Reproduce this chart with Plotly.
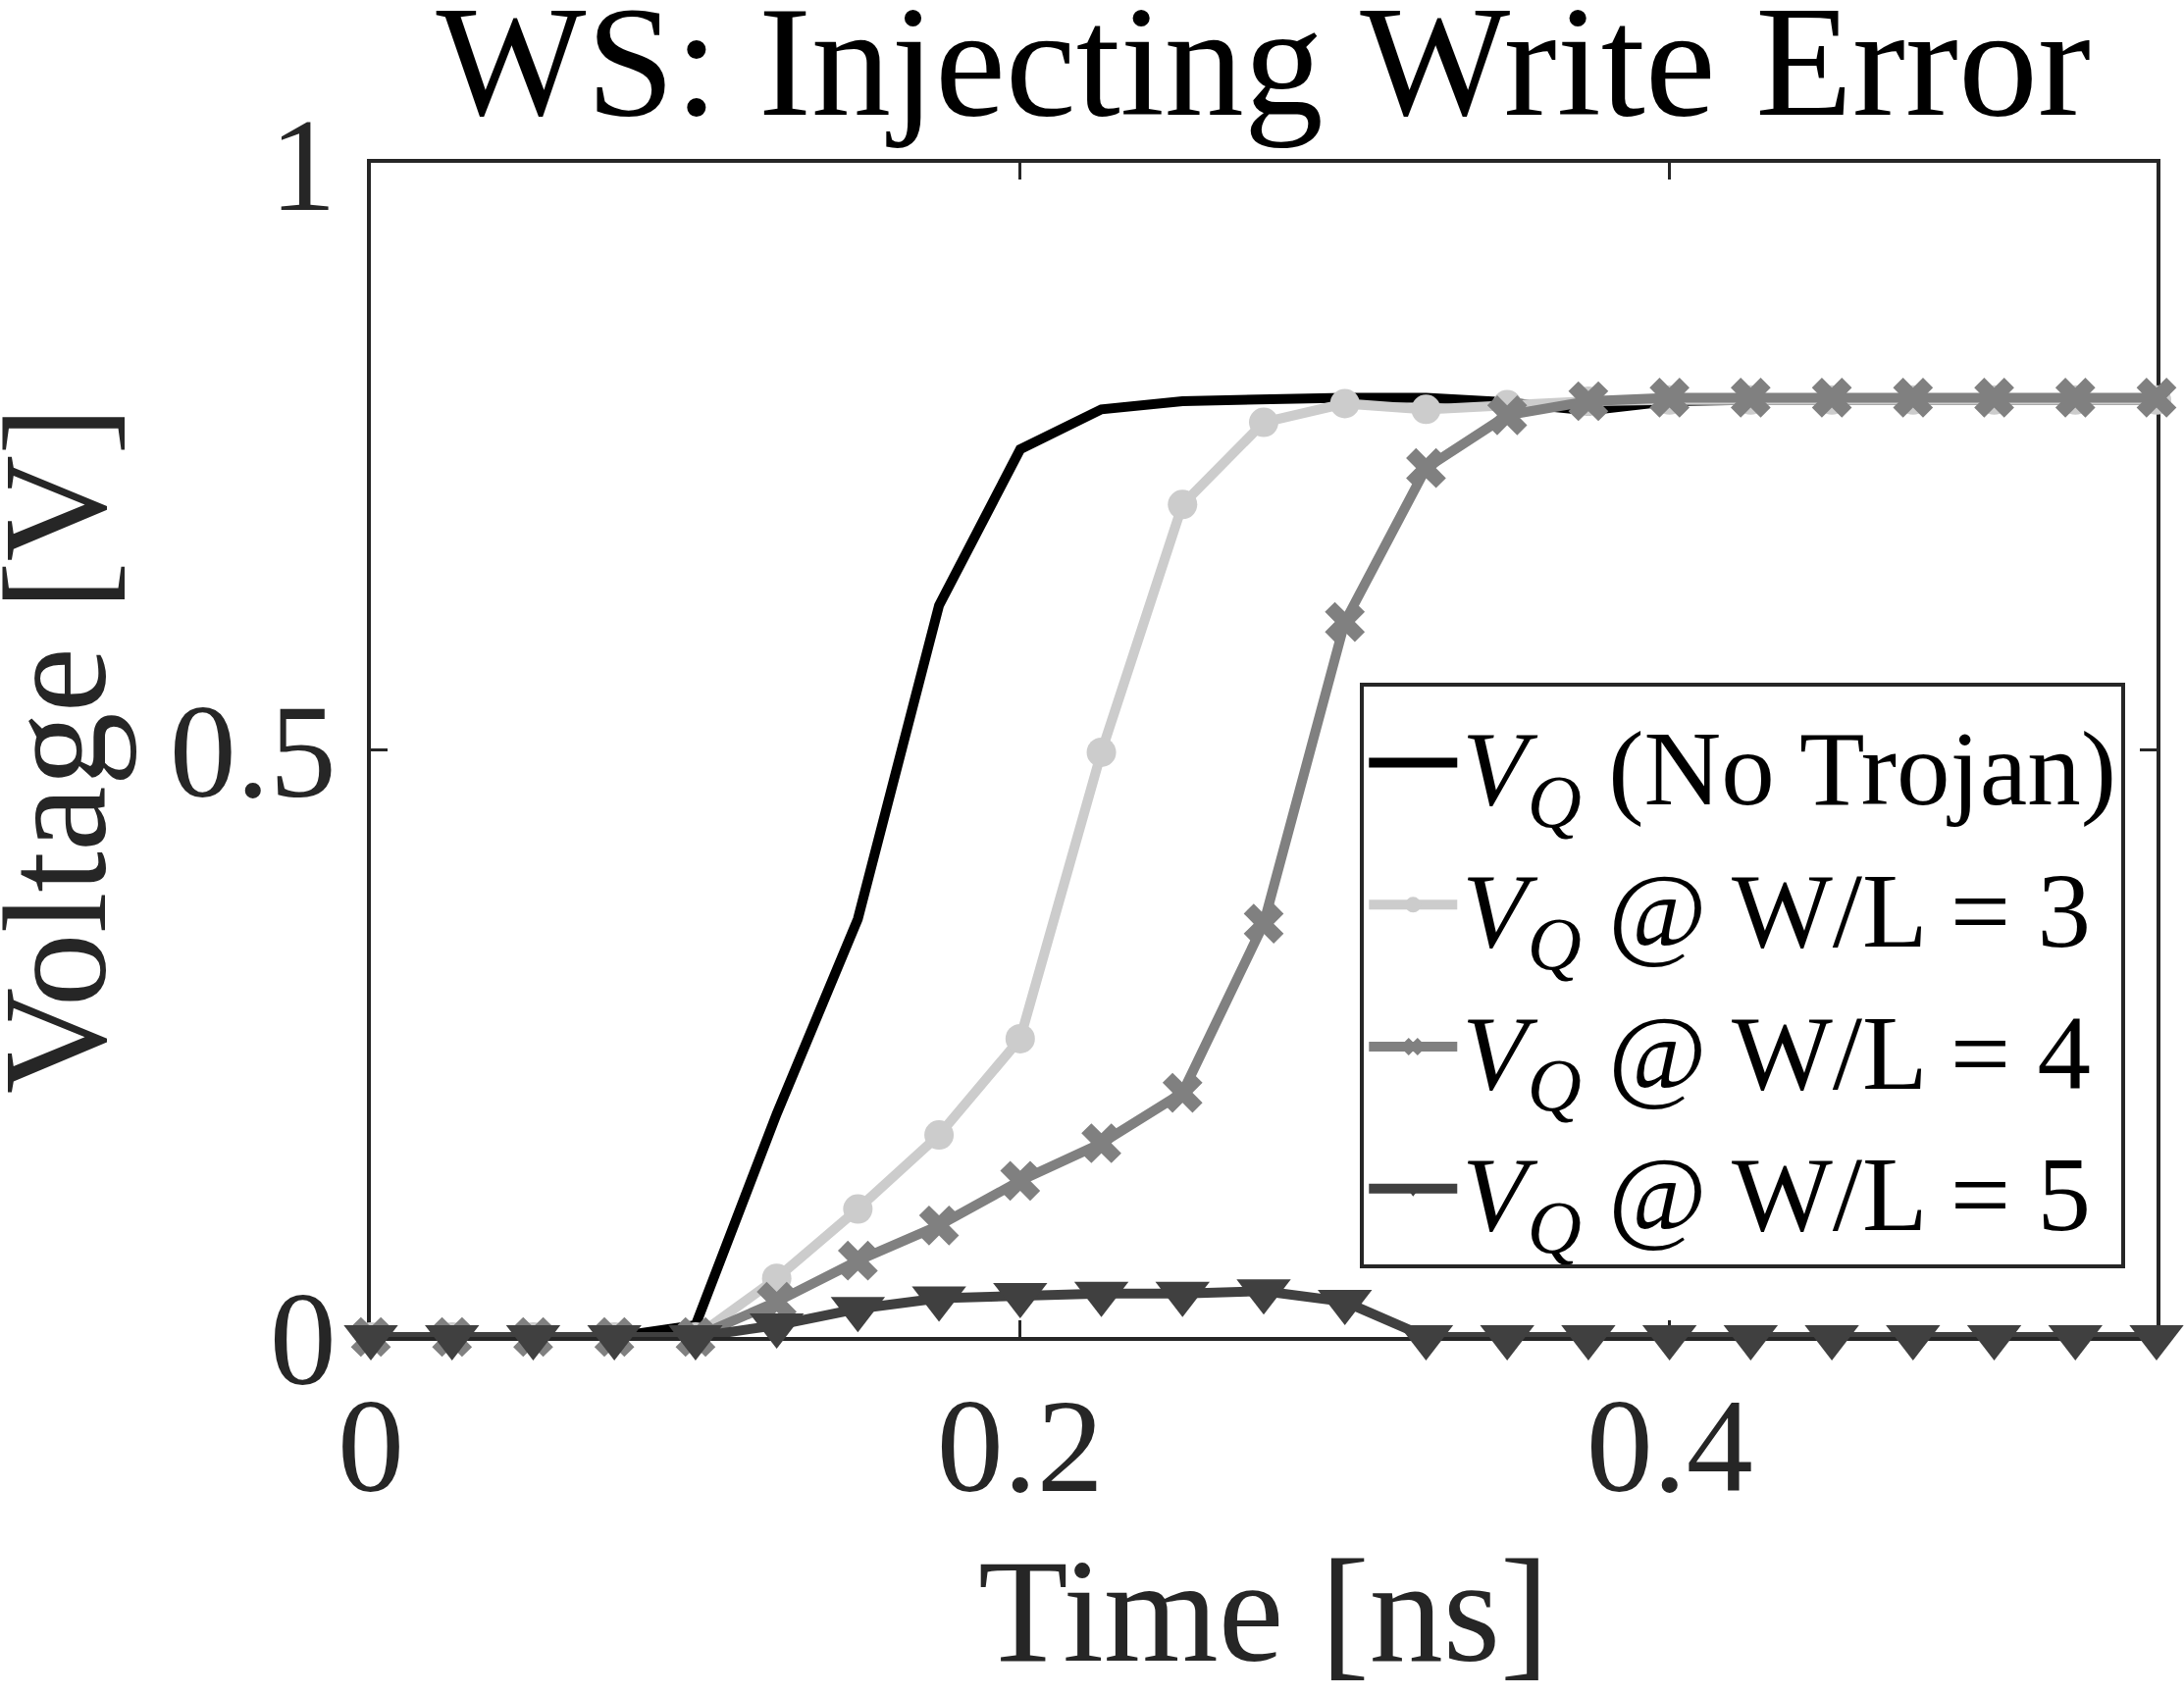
import plotly.graph_objects as go

time_ns = [0, 0.025, 0.05, 0.075, 0.1, 0.125, 0.15, 0.175, 0.2, 0.225, 0.25, 0.275,
           0.3, 0.325, 0.35, 0.375, 0.4, 0.425, 0.45, 0.475, 0.5, 0.525, 0.55]

v_no_trojan = [0, 0, 0, 0, 0.01, 0.19, 0.356, 0.623, 0.756, 0.79, 0.797, 0.799,
               0.8, 0.8, 0.796, 0.789, 0.797, 0.798, 0.798, 0.798, 0.798, 0.798, 0.798]
v_wl3 = [0, 0, 0, 0, 0, 0.05, 0.109, 0.172, 0.254, 0.498, 0.709, 0.779,
         0.795, 0.79, 0.794, 0.797, 0.798, 0.798, 0.798, 0.798, 0.798, 0.798, 0.798]
v_wl4 = [0, 0, 0, 0, 0, 0.03, 0.065, 0.095, 0.133, 0.165, 0.208, 0.352,
         0.609, 0.74, 0.785, 0.797, 0.8, 0.8, 0.8, 0.8, 0.8, 0.8, 0.8]
v_wl5 = [0, 0, 0, 0, 0, 0.01, 0.024, 0.033, 0.036, 0.037, 0.037, 0.039,
         0.03, 0, 0, 0, 0, 0, 0, 0, 0, 0, 0]

names = ["<i>V</i><sub><i>Q</i></sub> (No Trojan)",
         "<i>V</i><sub><i>Q</i></sub> @ W/L = 3",
         "<i>V</i><sub><i>Q</i></sub> @ W/L = 4",
         "<i>V</i><sub><i>Q</i></sub> @ W/L = 5"]
title_text = "WS: Injecting Write Error"
x_title = "Time [ns]"
y_title = "Voltage [V]"
x_ticks = [0, 0.2, 0.4]
x_ticklabels = ["0", "0.2", "0.4"]
y_ticks = [0, 0.5, 1]
y_ticklabels = ["0", "0.5", "1"]

FONT = "Liberation Serif, Times New Roman, serif"
AX = "#262626"

fig = go.Figure()
series = [
    (v_no_trojan, "#000000", None, 0),
    (v_wl3, "#cccccc", "circle", 30),
    (v_wl4, "#808080", "x", 36),
    (v_wl5, "#404040", "triangle-down", 48),
]
for i, (vals, col, sym, msize) in enumerate(series):
    kw = dict(mode="lines")
    if sym:
        kw = dict(mode="lines+markers",
                  marker=dict(symbol=sym, size=msize, color=col, line=dict(width=0)))
    fig.add_trace(go.Scatter(x=time_ns, y=vals, name=names[i],
                             line=dict(color=col, width=10), cliponaxis=False, **kw))

fig.update_layout(
    width=2226, height=1728,
    margin=dict(l=378, r=28, t=166, b=365),
    paper_bgcolor="white", plot_bgcolor="white",
    font=dict(family=FONT, color="#000000"),
    title=dict(text=title_text, x=0.5785, xanchor="center", y=0.965, yanchor="middle",
               font=dict(size=162, family=FONT, color="#000000")),
    showlegend=True,
    legend=dict(x=0.554, y=0.557, xanchor="left", yanchor="top",
                bgcolor="white", bordercolor=AX, borderwidth=4,
                font=dict(size=109, family=FONT, color="#000000"),
                itemwidth=90, itemsizing="trace"),
)
fig.update_xaxes(range=[0, 0.55], tickvals=x_ticks, ticktext=x_ticklabels,
                 showline=True, linecolor=AX, linewidth=4, mirror="ticks",
                 ticks="inside", ticklen=17, tickwidth=3, tickcolor=AX,
                 showgrid=False, zeroline=False, ticklabelstandoff=-10,
                 layer="below traces",
                 tickfont=dict(size=136, family=FONT, color=AX))
fig.update_yaxes(range=[0, 1], tickvals=y_ticks, ticktext=y_ticklabels,
                 showline=True, linecolor=AX, linewidth=4, mirror="ticks",
                 ticks="inside", ticklen=17, tickwidth=3, tickcolor=AX,
                 showgrid=False, zeroline=False, ticklabelstandoff=4,
                 layer="below traces",
                 tickfont=dict(size=136, family=FONT, color=AX))
fig.add_annotation(text=x_title, xref="paper", yref="paper", x=0.5, y=-0.233,
                   xanchor="center", yanchor="middle", showarrow=False,
                   font=dict(size=150, family=FONT, color=AX))
fig.add_annotation(text=y_title, xref="paper", yref="paper", x=-0.177, y=0.5,
                   xanchor="center", yanchor="middle", showarrow=False, textangle=-90,
                   font=dict(size=150, family=FONT, color=AX))

fig.write_html("out.html")
